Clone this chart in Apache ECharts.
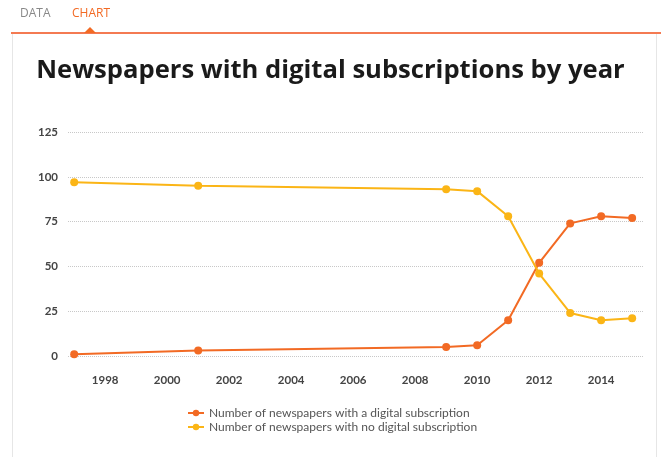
<!DOCTYPE html>
<html><head><meta charset="utf-8">
<script src="https://cdn.jsdelivr.net/npm/echarts@6/dist/echarts.min.js"></script>
<style>html,body{margin:0;padding:0;background:#fff}#c{width:661px;height:457px}</style>
</head><body><div id="c"></div>
<script>
const years = [1997, 2001, 2009, 2010, 2011, 2012, 2013, 2014, 2015];
const withDigital = [1, 3, 5, 6, 20, 52, 74, 78, 77];
const noDigital = [97, 95, 93, 92, 78, 46, 24, 20, 21];
const xTickLabels = [1998, 2000, 2002, 2004, 2006, 2008, 2010, 2012, 2014];
const seriesNames = ['Number of newspapers with a digital subscription', 'Number of newspapers with no digital subscription'];
const titleText = 'Newspapers with digital subscriptions by year';

const chart = echarts.init(document.getElementById('c'));
const orange = '#f26a24', yellow = '#fbb516';
chart.setOption({
  animation: false,
  backgroundColor: '#fff',
  title: { text: titleText, left: 'center', top: 53,
    textStyle: { fontFamily: 'Open Sans', fontWeight: 'bold', fontSize: 25.6, color: '#1a1a1a' } },
  graphic: [
    { type: 'text', left: 20, top: 8, style: { text: 'DATA', fill: '#888', font: '12px "Open Sans"' } },
    { type: 'text', left: 72, top: 8, style: { text: 'CHART', fill: '#f26a24', font: '12px "Open Sans"' } },
    { type: 'line', shape: { x1: 11, y1: 33, x2: 661, y2: 33 }, style: { stroke: '#f47a52', lineWidth: 2 } },
    { type: 'polygon', shape: { points: [[84, 33], [90, 27], [96, 33]] }, style: { fill: '#f26a24' } },
    { type: 'line', shape: { x1: 12.5, y1: 34, x2: 12.5, y2: 457 }, style: { stroke: '#e6e6e6', lineWidth: 1 } },
    { type: 'line', shape: { x1: 656.5, y1: 34, x2: 656.5, y2: 457 }, style: { stroke: '#e6e6e6', lineWidth: 1 } }
  ],
  grid: { left: 68, right: 18, top: 132, bottom: 101 },
  legend: { orient: 'vertical', left: 182, top: 402, itemGap: 2, itemWidth: 16, itemHeight: 8,
    textStyle: { fontFamily: 'Lato', fontSize: 12, color: '#555' },
    data: seriesNames },
  xAxis: { type: 'value', min: 1996.8, max: 2015.35,
    axisLine: { show: false }, axisTick: { show: false }, splitLine: { show: false },
    axisLabel: { customValues: xTickLabels, margin: 18, color: '#444', fontFamily: 'Lato', fontWeight: 'bold', fontSize: 11.5,
      formatter: v => String(v) } },
  yAxis: { type: 'value', min: 0, max: 125, interval: 25,
    axisLine: { show: false }, axisTick: { show: false },
    splitLine: { lineStyle: { type: 'dotted', color: '#c8c8c8', width: 1 } },
    axisLabel: { margin: 10, color: '#444', fontFamily: 'Lato', fontWeight: 'bold', fontSize: 11.5 } },
  series: [
    { name: seriesNames[0], type: 'line', data: years.map((y, i) => [y, withDigital[i]]),
      color: orange, symbol: 'circle', symbolSize: 8, lineStyle: { width: 2 } },
    { name: seriesNames[1], type: 'line', data: years.map((y, i) => [y, noDigital[i]]),
      color: yellow, symbol: 'circle', symbolSize: 8, lineStyle: { width: 2 } }
  ]
});
</script></body></html>
